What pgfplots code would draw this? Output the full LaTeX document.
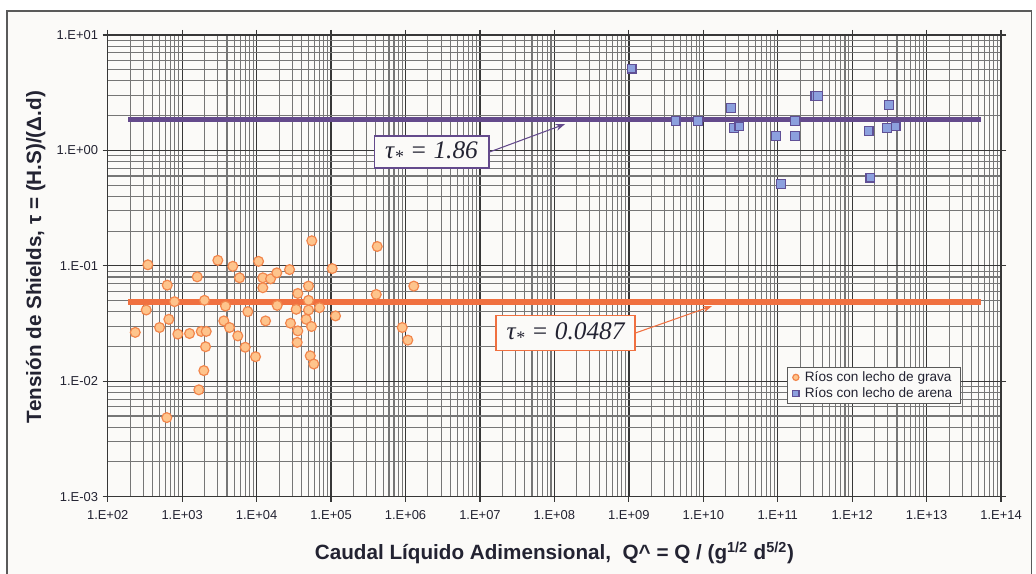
\documentclass[border=0pt]{standalone}
\usepackage{fontspec}
\setmainfont{Liberation Sans}
\newfontfamily\serifit{Liberation Serif}
\usepackage{pgfplots}
\pgfplotsset{compat=1.18}
\usetikzlibrary{arrows.meta}
\definecolor{bg}{RGB}{251,250,248}
\definecolor{frameC}{RGB}{90,90,90}
\definecolor{orL}{RGB}{240,112,64}
\definecolor{orF}{RGB}{254,196,140}
\definecolor{orE}{RGB}{242,134,76}
\definecolor{puL}{RGB}{100,74,140}
\definecolor{puF}{RGB}{140,160,222}
\definecolor{puE}{RGB}{96,80,150}
\definecolor{gMaj}{RGB}{55,55,55}
\definecolor{gMin}{RGB}{118,118,118}
\definecolor{txt}{RGB}{35,35,50}
\begin{document}
\begin{tikzpicture}
\useasboundingbox (0,0) rectangle (777pt,430.5pt);
\fill[white] (0,0) rectangle (777pt,430.5pt);
\filldraw[fill=bg, draw=frameC, line width=1.2pt] (5.25pt,-5pt) rectangle (773.5pt,422.25pt);
\begin{axis}[
  at={(80.8pt,58pt)}, anchor=south west,
  width=670pt, height=346.3pt, scale only axis,
  xmode=log, ymode=log,
  xmin=1e2, xmax=1e14, ymin=1e-3, ymax=1e1,
  xtick={1e2,1e3,1e4,1e5,1e6,1e7,1e8,1e9,1e10,1e11,1e12,1e13,1e14},
  xticklabels={\mbox{1.E+02},\mbox{1.E+03},\mbox{1.E+04},\mbox{1.E+05},\mbox{1.E+06},\mbox{1.E+07},\mbox{1.E+08},\mbox{1.E+09},\mbox{1.E+10},\mbox{1.E+11},\mbox{1.E+12},\mbox{1.E+13},\mbox{1.E+14}},
  ytick={1e-3,1e-2,1e-1,1,10},
  yticklabels={\mbox{1.E-03},\mbox{1.E-02},\mbox{1.E-01},\mbox{1.E+00},\mbox{1.E+01}},
  minor xtick={2e2,3e2,4e2,5e2,6e2,7e2,8e2,9e2,
    2e3,3e3,4e3,5e3,6e3,7e3,8e3,9e3,
    2e4,3e4,4e4,5e4,6e4,7e4,8e4,9e4,
    2e5,3e5,4e5,5e5,6e5,7e5,8e5,9e5,
    2e6,3e6,4e6,5e6,6e6,7e6,8e6,9e6,
    2e7,3e7,4e7,5e7,6e7,7e7,8e7,9e7,
    2e8,3e8,4e8,5e8,6e8,7e8,8e8,9e8,
    2e9,3e9,4e9,5e9,6e9,7e9,8e9,9e9,
    2e10,3e10,4e10,5e10,6e10,7e10,8e10,9e10,
    2e11,3e11,4e11,5e11,6e11,7e11,8e11,9e11,
    2e12,3e12,4e12,5e12,6e12,7e12,8e12,9e12,
    2e13,3e13,4e13,5e13,6e13,7e13,8e13,9e13},
  minor ytick={2e-3,3e-3,4e-3,5e-3,6e-3,7e-3,8e-3,9e-3,
    2e-2,3e-2,4e-2,5e-2,6e-2,7e-2,8e-2,9e-2,
    0.2,0.3,0.4,0.5,0.6,0.7,0.8,0.9,
    2,3,4,5,6,7,8,9},
  grid=both,
  major grid style={gMaj, line width=1pt},
  minor grid style={gMin, line width=0.8pt},
  tick align=outside,
  major tick length=3.75pt, minor tick length=0pt,
  tick style={gMaj, line width=0.9pt},
  axis line style={gMaj, line width=1.1pt},
  ticklabel style={font=\fontsize{9.7}{11}\selectfont, text=txt},
  xticklabel style={yshift=-3pt},
  label style={font=\fontsize{15.5}{18}\selectfont\bfseries, text=txt},
  xlabel={Caudal Líquido Adimensional,\ \ Q\textasciicircum{} = Q / (g\textsuperscript{1/2} d\textsuperscript{5/2})},
  ylabel={Tensión de Shields, τ = (H.S)/(Δ.d)},
  xlabel style={at={(axis description cs:0.5,-0.137)}, anchor=base},
  ylabel style={at={(axis description cs:-0.0746,0.519)}, anchor=base},
  legend style={at={(axis description cs:0.7604,0.2809)}, anchor=north west,
    draw=frameC, fill=bg, line width=0.6pt,
    font=\fontsize{10.2}{12}\selectfont, text=txt,
    inner xsep=4pt, inner ysep=1pt, row sep=-1pt,
    /tikz/every odd column/.append style={column sep=2.5pt}},
  legend cell align=left,
  legend image code/.code={\draw[#1, mark size=2.3pt] plot coordinates {(0.1cm,0cm)};},
]
\addplot[orL, line width=5pt, forget plot] coordinates {(1.9e2,0.0487) (5.4e13,0.0487)};
\addplot[puL, line width=3.4pt, forget plot] coordinates {(1.9e2,1.86) (5.4e13,1.86)};

\addplot[only marks, mark=*, mark size=3.7pt, mark options={fill=orF, draw=orE, line width=0.9pt}] coordinates {
(346,0.102) (234,0.0265) (329,0.0414) (630,0.0680) (789,0.0489) (662,0.0344)
(497,0.0292) (875,0.0256) (622,0.00484) (1256,0.0259) (1675,0.00843) (1954,0.01236)
(2061,0.0199) (1803,0.0270) (2104,0.0270) (1995,0.0502) (1592,0.0802) (3013,0.1115)
(4786,0.0990) (5888,0.0787) (3819,0.0448) (3623,0.0333) (4323,0.0292) (5585,0.0247)
(7027,0.0197) (9666,0.0163) (7621,0.0401) (10620,0.1093) (12110,0.0787) (12110,0.0646)
(15380,0.0771) (18680,0.0869) (27670,0.0927) (18910,0.0454) (13180,0.0333) (35730,0.0576)
(49760,0.0667) (49760,0.0502) (34040,0.0420) (49760,0.0414) (46370,0.0344) (28530,0.0318)
(35730,0.0273) (54580,0.0298) (35080,0.0217) (52480,0.0166) (58650,0.0141) (69930,0.0434)
(55080,0.1647) (103500,0.0946) (114800,0.0368) (417000,0.147) (404600,0.0565)
(903600,0.0292) (1074000,0.0227) (1291000,0.0667)
};
\addlegendentry{Ríos con lecho de grava}

\addplot[only marks, mark=square*, mark size=3.3pt, mark options={fill=puF, draw=puE, line width=0.9pt}] coordinates {
(1.087e9,5.11) (4.24e9,1.79) (8.43e9,1.79) (2.37e10,2.33) (2.57e10,1.56) (3.06e10,1.61)
(9.53e10,1.33) (1.11e11,0.510) (1.71e11,1.79) (1.71e11,1.33) (3.2e11,2.96) (3.5e11,2.96)
(1.66e12,1.47) (1.76e12,0.582) (2.95e12,1.57) (3.10e12,2.47) (3.82e12,1.61)
};
\addlegendentry{Ríos con lecho de arena}

\node[draw=puL, fill=bg, line width=1.1pt, minimum width=86pt, minimum height=24pt, inner sep=0pt,
  font=\serifit\itshape\fontsize{19}{21}\selectfont, text=txt] (b1) at (axis cs:2.24e6,0.969) {τ\textsubscript{*} = 1.86};
\draw[puL, line width=0.8pt, -{Stealth[length=7pt,width=5pt]}] (b1.east) -- (axis cs:1.39e8,1.69);
\node[draw=orL, fill=bg, line width=1.1pt, minimum width=104pt, minimum height=26pt, inner sep=0pt,
  font=\serifit\itshape\fontsize{19}{21}\selectfont, text=txt] (b2) at (axis cs:1.41e8,0.0262) {τ\textsubscript{*} = 0.0487};
\draw[orL, line width=0.8pt, -{Stealth[length=7pt,width=5pt]}] (b2.east) -- (axis cs:1.31e10,0.0448);
\end{axis}
\end{tikzpicture}
\end{document}
